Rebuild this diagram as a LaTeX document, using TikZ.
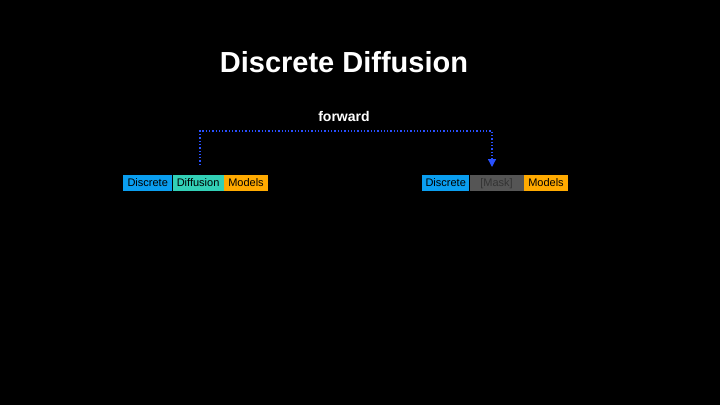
\documentclass[tikz,border=0pt]{standalone}
\usepackage{fontspec}
\setmainfont{Liberation Sans}
\usetikzlibrary{positioning,arrows.meta}
\definecolor{tokblue}{RGB}{10,158,240}
\definecolor{tokteal}{RGB}{50,208,182}
\definecolor{tokorange}{RGB}{255,170,0}
\definecolor{tokgray}{RGB}{85,85,85}
\definecolor{linkblue}{RGB}{40,80,255}
\begin{document}
\begin{tikzpicture}[x=1pt,y=-1pt,
    tok/.style={font=\fontsize{11}{11}\selectfont, text=black, inner sep=0pt,
      minimum height=16pt, anchor=west, text height=8pt, text depth=2pt}]
    \fill[black] (0,0) rectangle (720,405);
    \useasboundingbox (0,0) rectangle (720,405);

    \node[font=\fontsize{29}{29}\selectfont\bfseries, text=white] (title) at (344,62) {Discrete Diffusion};
    \node[font=\fontsize{14}{14}\selectfont\bfseries, text=white] (fwd) at (344,116) {forward};

    % source sentence
    \node[tok, fill=tokblue, minimum width=49pt] (srcA) at (123,183) {Discrete};
    \node[tok, fill=tokteal, minimum width=51pt, right=0pt of srcA] (srcB) {Diffusion};
    \node[tok, fill=tokorange, minimum width=44pt, right=0pt of srcB] (srcC) {Models};

    % masked sentence
    \node[tok, fill=tokblue, minimum width=47pt] (dstA) at (422,183) {Discrete};
    \node[tok, fill=tokgray, text=black!80, minimum width=54pt, right=0pt of dstA] (dstB) {[Mask]};
    \node[tok, fill=tokorange, minimum width=44pt, right=0pt of dstB] (dstC) {Models};

    \coordinate (srcTop) at (200,165);
    \coordinate (dstTop) at (492,167);
    \draw[linkblue, line width=1.3pt, dotted, -{Triangle[length=8pt,width=8pt]}]
      (srcTop) -- (200,131) -- (492,131) -- (dstTop);
\end{tikzpicture}
\end{document}
